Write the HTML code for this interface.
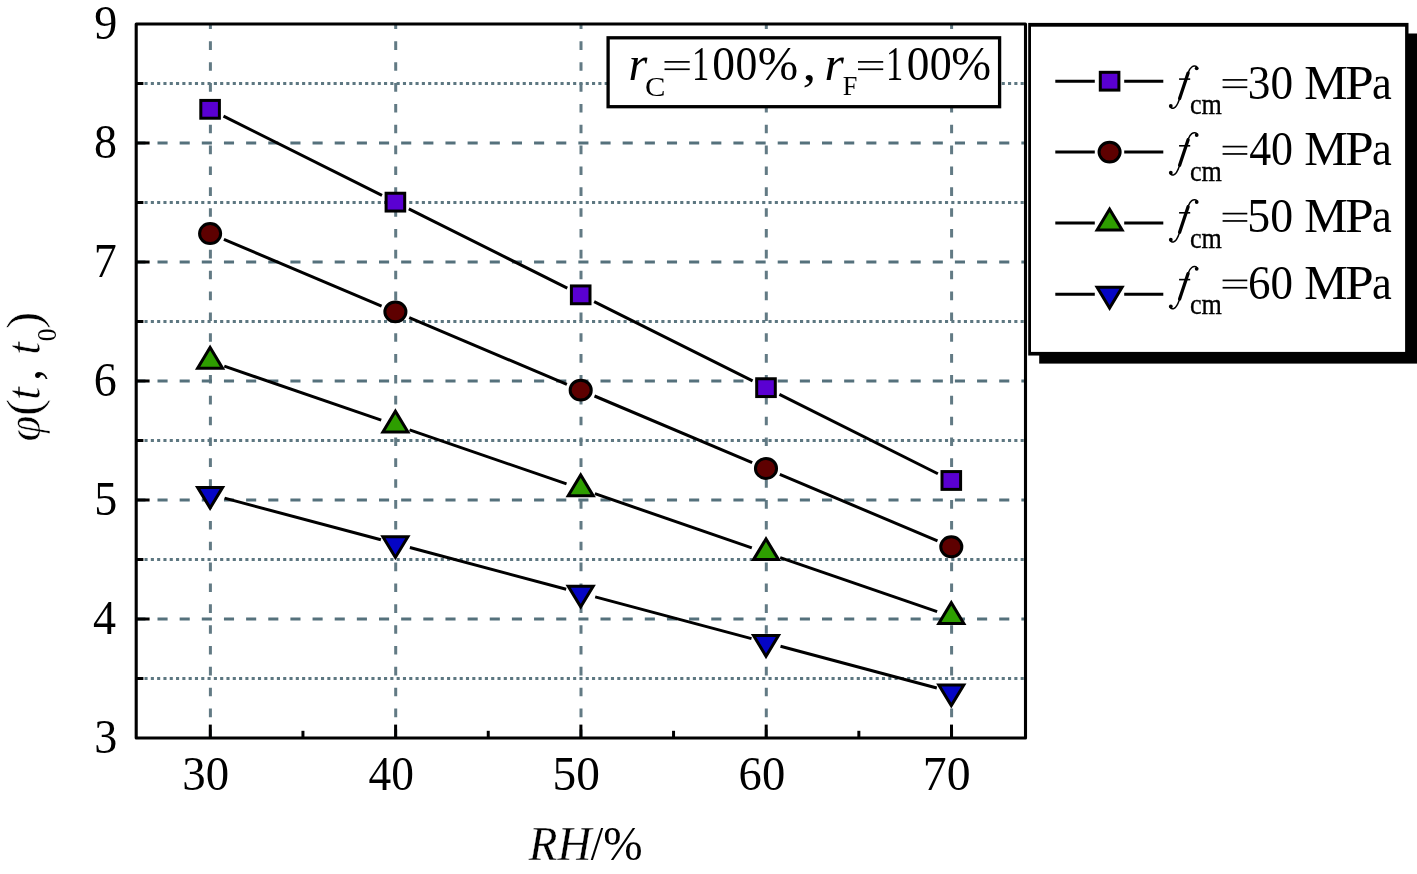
<!DOCTYPE html>
<html><head><meta charset="utf-8"><title>chart</title>
<style>html,body{margin:0;padding:0;background:#fff;}svg{display:block;will-change:transform;}</style>
</head><body>
<svg width="1417" height="874" viewBox="0 0 1417 874" font-family="'Liberation Serif', serif" fill="#000" style="font-kerning:none">
<rect width="1417" height="874" fill="#fff"/>
<g stroke="#55717c" stroke-width="3.0" fill="none">
<line x1="210.40" y1="738.0" x2="210.40" y2="24.0" stroke="#627a84" stroke-dasharray="8.6 12.25"/>
<line x1="395.70" y1="738.0" x2="395.70" y2="24.0" stroke="#627a84" stroke-dasharray="8.6 12.25"/>
<line x1="581.00" y1="738.0" x2="581.00" y2="24.0" stroke="#627a84" stroke-dasharray="8.6 12.25"/>
<line x1="766.30" y1="738.0" x2="766.30" y2="24.0" stroke="#627a84" stroke-dasharray="8.6 12.25"/>
<line x1="951.60" y1="738.0" x2="951.60" y2="24.0" stroke="#627a84" stroke-dasharray="8.6 12.25"/>
<line x1="135.35" y1="619.00" x2="1025.5" y2="619.00" stroke-dasharray="10.1 12.05"/>
<line x1="135.35" y1="500.00" x2="1025.5" y2="500.00" stroke-dasharray="10.1 12.05"/>
<line x1="135.35" y1="381.00" x2="1025.5" y2="381.00" stroke-dasharray="10.1 12.05"/>
<line x1="135.35" y1="262.00" x2="1025.5" y2="262.00" stroke-dasharray="10.1 12.05"/>
<line x1="135.35" y1="143.00" x2="1025.5" y2="143.00" stroke-dasharray="10.1 12.05"/>
<line x1="136.2" y1="678.50" x2="1025.5" y2="678.50" stroke="#5d7781" stroke-width="3.1" stroke-dasharray="3.1 3.203" stroke-dashoffset="4.3"/>
<line x1="136.2" y1="559.50" x2="1025.5" y2="559.50" stroke="#5d7781" stroke-width="3.1" stroke-dasharray="3.1 3.203" stroke-dashoffset="4.3"/>
<line x1="136.2" y1="440.50" x2="1025.5" y2="440.50" stroke="#5d7781" stroke-width="3.1" stroke-dasharray="3.1 3.203" stroke-dashoffset="4.3"/>
<line x1="136.2" y1="321.50" x2="1025.5" y2="321.50" stroke="#5d7781" stroke-width="3.1" stroke-dasharray="3.1 3.203" stroke-dashoffset="4.3"/>
<line x1="136.2" y1="202.50" x2="1025.5" y2="202.50" stroke="#5d7781" stroke-width="3.1" stroke-dasharray="3.1 3.203" stroke-dashoffset="4.3"/>
<line x1="136.2" y1="83.50" x2="1025.5" y2="83.50" stroke="#5d7781" stroke-width="3.1" stroke-dasharray="3.1 3.203" stroke-dashoffset="4.3"/>
</g>
<g stroke="#000" stroke-width="3" fill="none">
<line x1="136.2" y1="619.00" x2="149.6" y2="619.00"/>
<line x1="136.2" y1="500.00" x2="149.6" y2="500.00"/>
<line x1="136.2" y1="381.00" x2="149.6" y2="381.00"/>
<line x1="136.2" y1="262.00" x2="149.6" y2="262.00"/>
<line x1="136.2" y1="143.00" x2="149.6" y2="143.00"/>
<line x1="136.2" y1="678.50" x2="143.39999999999998" y2="678.50"/>
<line x1="136.2" y1="559.50" x2="143.39999999999998" y2="559.50"/>
<line x1="136.2" y1="440.50" x2="143.39999999999998" y2="440.50"/>
<line x1="136.2" y1="321.50" x2="143.39999999999998" y2="321.50"/>
<line x1="136.2" y1="202.50" x2="143.39999999999998" y2="202.50"/>
<line x1="136.2" y1="83.50" x2="143.39999999999998" y2="83.50"/>
<line x1="210.30" y1="738.0" x2="210.30" y2="724.6"/>
<line x1="395.60" y1="738.0" x2="395.60" y2="724.6"/>
<line x1="580.90" y1="738.0" x2="580.90" y2="724.6"/>
<line x1="766.20" y1="738.0" x2="766.20" y2="724.6"/>
<line x1="951.50" y1="738.0" x2="951.50" y2="724.6"/>
<line x1="302.95" y1="738.0" x2="302.95" y2="730.8"/>
<line x1="488.25" y1="738.0" x2="488.25" y2="730.8"/>
<line x1="673.55" y1="738.0" x2="673.55" y2="730.8"/>
<line x1="858.85" y1="738.0" x2="858.85" y2="730.8"/>
</g>
<g stroke="#000" stroke-width="3" fill="none" stroke-linecap="butt">
<line x1="223.51" y1="116.04" x2="381.99" y2="195.42"/>
<line x1="408.81" y1="208.85" x2="567.29" y2="288.13"/>
<line x1="594.11" y1="301.56" x2="752.59" y2="380.95"/>
<line x1="779.41" y1="394.38" x2="937.89" y2="473.77"/>
<line x1="223.92" y1="239.40" x2="381.58" y2="306.02"/>
<line x1="409.22" y1="317.70" x2="566.88" y2="384.32"/>
<line x1="594.52" y1="396.00" x2="752.18" y2="462.63"/>
<line x1="779.82" y1="474.30" x2="937.48" y2="540.93"/>
<line x1="224.28" y1="366.13" x2="381.22" y2="420.15"/>
<line x1="409.58" y1="429.91" x2="566.52" y2="483.93"/>
<line x1="594.88" y1="493.70" x2="751.82" y2="547.83"/>
<line x1="780.18" y1="557.60" x2="937.12" y2="611.62"/>
<line x1="224.59" y1="498.15" x2="380.91" y2="539.81"/>
<line x1="409.89" y1="547.54" x2="566.21" y2="589.20"/>
<line x1="595.19" y1="596.92" x2="751.51" y2="638.58"/>
<line x1="780.49" y1="646.31" x2="936.81" y2="687.97"/>
</g>
<rect x="200.80" y="100.42" width="18.60" height="17.80" fill="#5a00d2" stroke="#000" stroke-width="3.0"/>
<rect x="386.10" y="193.24" width="18.60" height="17.80" fill="#5a00d2" stroke="#000" stroke-width="3.0"/>
<rect x="571.40" y="285.94" width="18.60" height="17.80" fill="#5a00d2" stroke="#000" stroke-width="3.0"/>
<rect x="756.70" y="378.76" width="18.60" height="17.80" fill="#5a00d2" stroke="#000" stroke-width="3.0"/>
<rect x="942.00" y="471.58" width="18.60" height="17.80" fill="#5a00d2" stroke="#000" stroke-width="3.0"/>
<ellipse cx="210.10" cy="233.56" rx="10.55" ry="9.95" fill="#5e0000" stroke="#000" stroke-width="3.0"/>
<ellipse cx="395.40" cy="311.86" rx="10.55" ry="9.95" fill="#5e0000" stroke="#000" stroke-width="3.0"/>
<ellipse cx="580.70" cy="390.16" rx="10.55" ry="9.95" fill="#5e0000" stroke="#000" stroke-width="3.0"/>
<ellipse cx="766.00" cy="468.47" rx="10.55" ry="9.95" fill="#5e0000" stroke="#000" stroke-width="3.0"/>
<ellipse cx="951.30" cy="546.77" rx="10.55" ry="9.95" fill="#5e0000" stroke="#000" stroke-width="3.0"/>
<path d="M197.60,368.15 L222.60,368.15 L210.10,347.45 Z" fill="#2e9e00" stroke="#000" stroke-width="3.0" stroke-linejoin="miter" stroke-miterlimit="10"/>
<path d="M382.90,431.93 L407.90,431.93 L395.40,411.23 Z" fill="#2e9e00" stroke="#000" stroke-width="3.0" stroke-linejoin="miter" stroke-miterlimit="10"/>
<path d="M568.20,495.71 L593.20,495.71 L580.70,475.01 Z" fill="#2e9e00" stroke="#000" stroke-width="3.0" stroke-linejoin="miter" stroke-miterlimit="10"/>
<path d="M753.50,559.62 L778.50,559.62 L766.00,538.92 Z" fill="#2e9e00" stroke="#000" stroke-width="3.0" stroke-linejoin="miter" stroke-miterlimit="10"/>
<path d="M938.80,623.40 L963.80,623.40 L951.30,602.70 Z" fill="#2e9e00" stroke="#000" stroke-width="3.0" stroke-linejoin="miter" stroke-miterlimit="10"/>
<path d="M197.60,487.39 L222.60,487.39 L210.10,508.09 Z" fill="#0505c5" stroke="#000" stroke-width="3.0" stroke-linejoin="miter" stroke-miterlimit="10"/>
<path d="M382.90,536.77 L407.90,536.77 L395.40,557.47 Z" fill="#0505c5" stroke="#000" stroke-width="3.0" stroke-linejoin="miter" stroke-miterlimit="10"/>
<path d="M568.20,586.16 L593.20,586.16 L580.70,606.86 Z" fill="#0505c5" stroke="#000" stroke-width="3.0" stroke-linejoin="miter" stroke-miterlimit="10"/>
<path d="M753.50,635.54 L778.50,635.54 L766.00,656.24 Z" fill="#0505c5" stroke="#000" stroke-width="3.0" stroke-linejoin="miter" stroke-miterlimit="10"/>
<path d="M938.80,684.93 L963.80,684.93 L951.30,705.63 Z" fill="#0505c5" stroke="#000" stroke-width="3.0" stroke-linejoin="miter" stroke-miterlimit="10"/>
<rect x="136.2" y="24.0" width="889.30" height="714.0" fill="none" stroke="#000" stroke-width="3.1" stroke-linejoin="round"/>
<text transform="translate(94.17,752.70) scale(0.9400,1.0000)" font-size="49">3</text>
<text transform="translate(93.09,633.70) scale(0.9400,1.0000)" font-size="49">4</text>
<text transform="translate(94.17,514.70) scale(0.9400,1.0000)" font-size="49">5</text>
<text transform="translate(93.74,395.70) scale(0.9400,1.0000)" font-size="49">6</text>
<text transform="translate(93.70,276.70) scale(0.9400,1.0000)" font-size="49">7</text>
<text transform="translate(94.12,157.70) scale(0.9400,1.0000)" font-size="49">8</text>
<text transform="translate(94.26,38.70) scale(0.9400,1.0000)" font-size="49">9</text>
<text transform="translate(182.26,790.00) scale(0.9556,1.0000)" font-size="49">30</text>
<text transform="translate(368.51,790.00) scale(0.9269,1.0000)" font-size="49">40</text>
<text transform="translate(552.55,790.00) scale(0.9664,1.0000)" font-size="49">50</text>
<text transform="translate(738.60,790.00) scale(0.9505,1.0000)" font-size="49">60</text>
<text transform="translate(922.75,790.00) scale(0.9749,1.0000)" font-size="49">70</text>
<text transform="translate(528.85,859.70) scale(0.9590,1.0000)" font-size="49" font-style="italic" stroke="#fff" stroke-width="0.3">RH</text>
<text transform="translate(590.70,859.70) scale(0.9182,1.0000)" font-size="49">/</text>
<text transform="translate(603.29,859.70) scale(0.9635,1.0000)" font-size="49">%</text>
<text transform="translate(39.50,441.39) rotate(-90) scale(0.9503,1.0000)" font-size="49" font-style="italic" stroke="#fff" stroke-width="0.55">φ</text>
<text transform="translate(39.50,416.06) rotate(-90) scale(1.0489,1.0000)" font-size="49" stroke="#fff" stroke-width="0.55">(</text>
<text transform="translate(39.50,399.98) rotate(-90) scale(0.9645,1.0000)" font-size="49" font-style="italic" stroke="#fff" stroke-width="0.55">t</text>
<text transform="translate(39.50,380.66) rotate(-90) scale(0.9455,1.0000)" font-size="49">,</text>
<text transform="translate(39.50,354.82) rotate(-90) scale(0.9404,1.0000)" font-size="49" font-style="italic" stroke="#fff" stroke-width="0.55">t</text>
<text transform="translate(55.90,341.37) rotate(-90) scale(0.9101,1.0000)" font-size="28">0</text>
<text transform="translate(39.50,328.88) rotate(-90) scale(1.0648,1.0000)" font-size="49" stroke="#fff" stroke-width="0.55">)</text>
<rect x="608.1" y="37.8" width="391.5" height="68.9" fill="#fff" stroke="#000" stroke-width="3.3"/>
<text transform="translate(628.44,79.90) scale(0.9868,1.0000)" font-size="49" font-style="italic">r</text>
<text transform="translate(644.94,95.60) scale(1.0950,1.0000)" font-size="28">C</text>
<line x1="664.50" y1="61.90" x2="689.70" y2="61.90" stroke="#000" stroke-width="1.7"/>
<line x1="664.50" y1="69.25" x2="689.70" y2="69.25" stroke="#000" stroke-width="1.7"/>
<text transform="translate(691.95,79.90) scale(0.7072,1.0000)" font-size="49">1</text>
<text transform="translate(712.37,79.90) scale(0.9293,1.0000)" font-size="49">0</text>
<text transform="translate(735.44,79.90) scale(0.8908,1.0000)" font-size="49">0</text>
<text transform="translate(757.64,79.90) scale(0.9902,1.0000)" font-size="49">%</text>
<text transform="translate(802.50,79.90) scale(1.1237,1.0000)" font-size="49">,</text>
<text transform="translate(824.38,79.90) scale(1.0159,1.0000)" font-size="49" font-style="italic">r</text>
<text transform="translate(842.84,95.20) scale(0.9379,1.0000)" font-size="28">F</text>
<line x1="858.00" y1="61.90" x2="883.20" y2="61.90" stroke="#000" stroke-width="1.7"/>
<line x1="858.00" y1="69.25" x2="883.20" y2="69.25" stroke="#000" stroke-width="1.7"/>
<text transform="translate(885.88,79.90) scale(0.7014,1.0000)" font-size="49">1</text>
<text transform="translate(906.67,79.90) scale(0.9245,1.0000)" font-size="49">0</text>
<text transform="translate(929.63,79.90) scale(0.8956,1.0000)" font-size="49">0</text>
<text transform="translate(951.16,79.90) scale(0.9768,1.0000)" font-size="49">%</text>
<rect x="1039.2" y="33.5" width="380" height="330.1" fill="#000"/>
<rect x="1028.2" y="22.9" width="380.3" height="332.65" fill="#000"/>
<rect x="1031.0" y="26.7" width="374.1" height="325.2" fill="#fff"/>
<line x1="1055.3" y1="81.2" x2="1094.8" y2="81.2" stroke="#000" stroke-width="3"/>
<line x1="1124.1999999999998" y1="81.2" x2="1163.3" y2="81.2" stroke="#000" stroke-width="3"/>
<rect x="1100.30" y="72.30" width="18.60" height="17.80" fill="#5a00d2" stroke="#000" stroke-width="3.0"/>
<line x1="1055.3" y1="152.1" x2="1094.8" y2="152.1" stroke="#000" stroke-width="3"/>
<line x1="1124.1999999999998" y1="152.1" x2="1163.3" y2="152.1" stroke="#000" stroke-width="3"/>
<ellipse cx="1109.60" cy="152.10" rx="10.55" ry="9.95" fill="#5e0000" stroke="#000" stroke-width="3.0"/>
<line x1="1055.3" y1="223.0" x2="1094.8" y2="223.0" stroke="#000" stroke-width="3"/>
<line x1="1124.1999999999998" y1="223.0" x2="1163.3" y2="223.0" stroke="#000" stroke-width="3"/>
<path d="M1097.10,229.90 L1122.10,229.90 L1109.60,209.20 Z" fill="#2e9e00" stroke="#000" stroke-width="3.0" stroke-linejoin="miter" stroke-miterlimit="10"/>
<line x1="1055.3" y1="294.2" x2="1094.8" y2="294.2" stroke="#000" stroke-width="3"/>
<line x1="1124.1999999999998" y1="294.2" x2="1163.3" y2="294.2" stroke="#000" stroke-width="3"/>
<path d="M1097.10,287.30 L1122.10,287.30 L1109.60,308.00 Z" fill="#0505c5" stroke="#000" stroke-width="3.0" stroke-linejoin="miter" stroke-miterlimit="10"/>
<g transform="translate(1169.20,98.50)" fill="none" stroke="#000" stroke-linecap="round" stroke-linejoin="round"><path d="M27.9,-30.9 C27.1,-32.7 24.5,-33.0 22.6,-31.5 C20.8,-30.1 19.9,-28.4 19.3,-26.6 L10.0,1.2 C8.8,4.8 7.0,8.5 4.6,9.5 C3.0,10.1 1.5,9.4 1.1,8.2" stroke-width="1.5"/><path d="M18.9,-25.4 L10.4,0" stroke-width="3.3"/><path d="M9.9,-19.4 L21.0,-19.4" stroke-width="1.6" stroke-linecap="butt"/><circle cx="27.5" cy="-30.2" r="1.9" fill="#000" stroke="none"/><circle cx="1.6" cy="7.5" r="1.9" fill="#000" stroke="none"/></g>
<text transform="translate(1189.91,113.90) scale(0.9005,1.0000)" font-size="29" stroke="#000" stroke-width="0.35">cm</text>
<line x1="1222.60" y1="79.90" x2="1247.30" y2="79.90" stroke="#000" stroke-width="1.7"/>
<line x1="1222.60" y1="87.25" x2="1247.30" y2="87.25" stroke="#000" stroke-width="1.7"/>
<text transform="translate(1247.83,98.50) scale(0.9243,1.0000)" font-size="49">30</text>
<text transform="translate(1304.20,98.50) scale(0.9921,1.0000)" font-size="49">M</text>
<text transform="translate(1345.12,98.50) scale(1.0512,1.0000)" font-size="49">P</text>
<text transform="translate(1371.93,98.50) scale(0.9093,1.0000)" font-size="49">a</text>
<g transform="translate(1169.20,165.20)" fill="none" stroke="#000" stroke-linecap="round" stroke-linejoin="round"><path d="M27.9,-30.9 C27.1,-32.7 24.5,-33.0 22.6,-31.5 C20.8,-30.1 19.9,-28.4 19.3,-26.6 L10.0,1.2 C8.8,4.8 7.0,8.5 4.6,9.5 C3.0,10.1 1.5,9.4 1.1,8.2" stroke-width="1.5"/><path d="M18.9,-25.4 L10.4,0" stroke-width="3.3"/><path d="M9.9,-19.4 L21.0,-19.4" stroke-width="1.6" stroke-linecap="butt"/><circle cx="27.5" cy="-30.2" r="1.9" fill="#000" stroke="none"/><circle cx="1.6" cy="7.5" r="1.9" fill="#000" stroke="none"/></g>
<text transform="translate(1189.91,180.60) scale(0.9005,1.0000)" font-size="29" stroke="#000" stroke-width="0.35">cm</text>
<line x1="1222.60" y1="146.60" x2="1247.30" y2="146.60" stroke="#000" stroke-width="1.7"/>
<line x1="1222.60" y1="153.95" x2="1247.30" y2="153.95" stroke="#000" stroke-width="1.7"/>
<text transform="translate(1249.14,165.20) scale(0.8966,1.0000)" font-size="49">40</text>
<text transform="translate(1304.20,165.20) scale(0.9921,1.0000)" font-size="49">M</text>
<text transform="translate(1345.12,165.20) scale(1.0512,1.0000)" font-size="49">P</text>
<text transform="translate(1371.93,165.20) scale(0.9093,1.0000)" font-size="49">a</text>
<g transform="translate(1169.20,232.20)" fill="none" stroke="#000" stroke-linecap="round" stroke-linejoin="round"><path d="M27.9,-30.9 C27.1,-32.7 24.5,-33.0 22.6,-31.5 C20.8,-30.1 19.9,-28.4 19.3,-26.6 L10.0,1.2 C8.8,4.8 7.0,8.5 4.6,9.5 C3.0,10.1 1.5,9.4 1.1,8.2" stroke-width="1.5"/><path d="M18.9,-25.4 L10.4,0" stroke-width="3.3"/><path d="M9.9,-19.4 L21.0,-19.4" stroke-width="1.6" stroke-linecap="butt"/><circle cx="27.5" cy="-30.2" r="1.9" fill="#000" stroke="none"/><circle cx="1.6" cy="7.5" r="1.9" fill="#000" stroke="none"/></g>
<text transform="translate(1189.91,247.60) scale(0.9005,1.0000)" font-size="29" stroke="#000" stroke-width="0.35">cm</text>
<line x1="1222.60" y1="213.60" x2="1247.30" y2="213.60" stroke="#000" stroke-width="1.7"/>
<line x1="1222.60" y1="220.95" x2="1247.30" y2="220.95" stroke="#000" stroke-width="1.7"/>
<text transform="translate(1247.34,232.20) scale(0.9348,1.0000)" font-size="49">50</text>
<text transform="translate(1304.20,232.20) scale(0.9921,1.0000)" font-size="49">M</text>
<text transform="translate(1345.12,232.20) scale(1.0512,1.0000)" font-size="49">P</text>
<text transform="translate(1371.93,232.20) scale(0.9093,1.0000)" font-size="49">a</text>
<g transform="translate(1169.20,299.00)" fill="none" stroke="#000" stroke-linecap="round" stroke-linejoin="round"><path d="M27.9,-30.9 C27.1,-32.7 24.5,-33.0 22.6,-31.5 C20.8,-30.1 19.9,-28.4 19.3,-26.6 L10.0,1.2 C8.8,4.8 7.0,8.5 4.6,9.5 C3.0,10.1 1.5,9.4 1.1,8.2" stroke-width="1.5"/><path d="M18.9,-25.4 L10.4,0" stroke-width="3.3"/><path d="M9.9,-19.4 L21.0,-19.4" stroke-width="1.6" stroke-linecap="butt"/><circle cx="27.5" cy="-30.2" r="1.9" fill="#000" stroke="none"/><circle cx="1.6" cy="7.5" r="1.9" fill="#000" stroke="none"/></g>
<text transform="translate(1189.91,314.40) scale(0.9005,1.0000)" font-size="29" stroke="#000" stroke-width="0.35">cm</text>
<line x1="1222.60" y1="280.40" x2="1247.30" y2="280.40" stroke="#000" stroke-width="1.7"/>
<line x1="1222.60" y1="287.75" x2="1247.30" y2="287.75" stroke="#000" stroke-width="1.7"/>
<text transform="translate(1248.06,299.00) scale(0.9194,1.0000)" font-size="49">60</text>
<text transform="translate(1304.20,299.00) scale(0.9921,1.0000)" font-size="49">M</text>
<text transform="translate(1345.12,299.00) scale(1.0512,1.0000)" font-size="49">P</text>
<text transform="translate(1371.93,299.00) scale(0.9093,1.0000)" font-size="49">a</text>
</svg>
</body></html>
